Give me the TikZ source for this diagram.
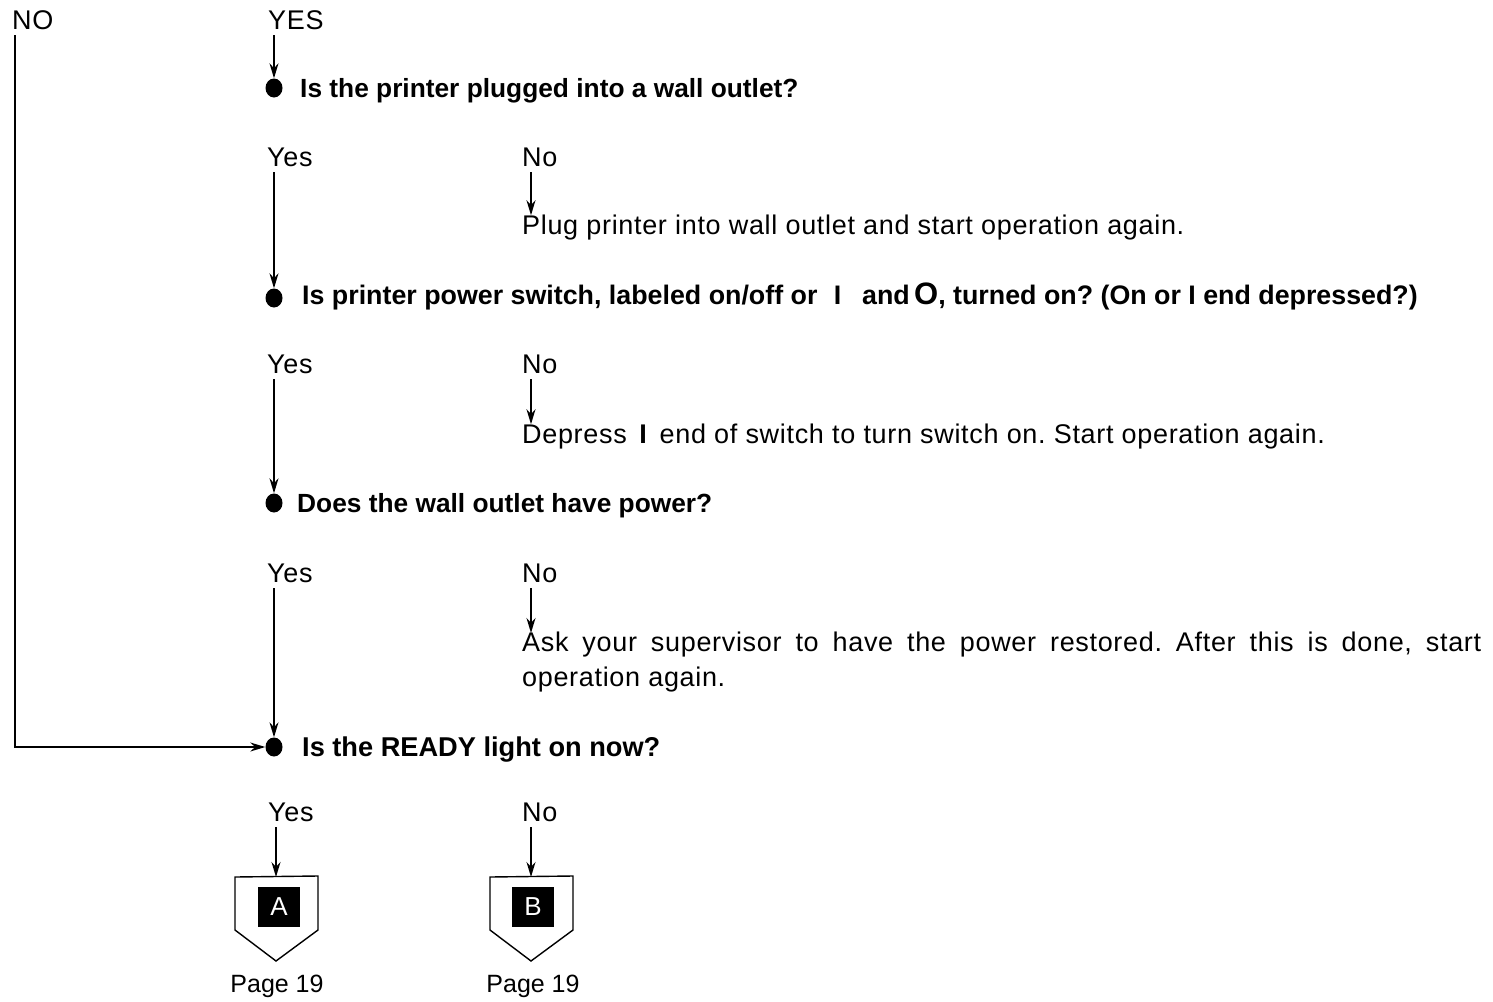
\documentclass[tikz,border=0pt]{standalone}
\usepackage{fontspec}
\setmainfont{Liberation Sans}
\newfontfamily\regfont[LetterSpace=2.5]{Liberation Sans}
\usetikzlibrary{arrows.meta,calc,shapes.geometric}
\hyphenpenalty=10000
\exhyphenpenalty=10000
\frenchspacing
\begin{document}
\begin{tikzpicture}[x=1pt,y=-1pt,
  lbl/.style={inner sep=0pt, anchor=base west, font=\regfont\fontsize{27}{35}\selectfont},
  q/.style={inner sep=0pt, anchor=base west, font=\bfseries\fontsize{26.3}{28}\selectfont},
  dot/.style={ellipse, fill=black, minimum width=17pt, minimum height=19pt, inner sep=0pt},
  arr/.style={line width=1.6pt, -{Stealth[length=15pt,width=9pt]}},
  pent/.style={line width=1.4pt, line join=miter},
  sq/.style={fill=black, text=white, minimum width=42pt, minimum height=40pt, inner sep=0pt, font=\fontsize{26}{28}\selectfont},
  pg/.style={inner sep=0pt, anchor=base, font=\fontsize{25}{28}\selectfont}
]
\useasboundingbox (0,0) rectangle (1493,1001);

% top labels
\node[lbl] (NO) at (12,29) {NO};
\node[lbl] (YES) at (268,29) {YES};

% dots
\node[dot] (d1) at (274,88) {};
\node[dot] (d2) at (274,298) {};
\node[dot] (d3) at (274,503) {};
\node[dot] (d4) at (274,747) {};

% questions
\node[q] (q1) at (300,97) {Is the printer plugged into a wall outlet?};
\node[q, font=\bfseries\fontsize{26.8}{28}\selectfont] (q2) at (302,304) {Is printer power switch, labeled on/off or \,\,I\,\,\, and\,{\fontsize{31}{31}\selectfont O}, turned on? (On or I end depressed?)};
\node[q] (q3) at (297,512) {Does the wall outlet have power?};
\node[q, font=\bfseries\fontsize{27.2}{28}\selectfont] (q4) at (302,756) {Is the READY light on now?};

% yes/no rows
\node[lbl] (y1) at (267,166) {Yes};
\node[lbl] (n1) at (522,166) {No};
\node[lbl] (y2) at (267,373) {Yes};
\node[lbl] (n2) at (522,373) {No};
\node[lbl] (y3) at (267,582) {Yes};
\node[lbl] (n3) at (522,582) {No};
\node[lbl] (y4) at (268,821) {Yes};
\node[lbl] (n4) at (522,821) {No};

% answers
\node[lbl] (a1) at (522,234) {Plug printer into wall outlet and start operation again.};
\node[lbl] (a2) at (522,443) {Depress \,{\bfseries I}\, end of switch to turn switch on. Start operation again.};
\node[lbl, text width=959pt, align=justify, anchor=north west] (a3) at (522,632) {Ask your supervisor to have the power restored. After this is done, start operation again.};

% connectors
\draw[arr] ([yshift=-6pt]YES.south -| d1.north) -- (d1.north);
\draw[arr] ([xshift=3pt,yshift=-6pt]NO.south west) |- (d4.west);
\draw[arr] ([yshift=-6pt]y1.south -| d2.north) -- (d2.north);
\draw[arr] ([yshift=-6pt]y2.south -| d3.north) -- (d3.north);
\draw[arr] ([yshift=-6pt]y3.south -| d4.north) -- (d4.north);
\draw[arr] ([xshift=9pt,yshift=-6pt]n1.south west) -- ([xshift=9pt,yshift=-1pt]a1.north west);
\draw[arr] ([xshift=9pt,yshift=-6pt]n2.south west) -- ([xshift=9pt,yshift=-1pt]a2.north west);
\draw[arr] ([xshift=9pt,yshift=-6pt]n3.south west) -- ([xshift=9pt,yshift=-1pt]a3.north west);

% off-page connectors
\coordinate (pa) at (276,877);
\coordinate (pb) at (531,877);
\draw[pent] ($(pa)+(-41,0)$) -- ($(pa)+(42,-1)$) -- ($(pa)+(42,53)$) -- ($(pa)+(0,84)$) -- ($(pa)+(-41,53)$) -- cycle;
\draw[pent] ($(pb)+(-41,0)$) -- ($(pb)+(42,-1)$) -- ($(pb)+(42,53)$) -- ($(pb)+(0,84)$) -- ($(pb)+(-41,53)$) -- cycle;
\node[sq] (sa) at (279,907) {A};
\node[sq] (sb) at (533,907) {B};
\draw[arr] ([yshift=-6pt]y4.south -| pa) -- (pa);
\draw[arr] ([yshift=-6pt]n4.south -| pb) -- (pb);
\node[pg] (pga) at (277,992) {Page 19};
\node[pg] (pgb) at (533,992) {Page 19};
\end{tikzpicture}
\end{document}
